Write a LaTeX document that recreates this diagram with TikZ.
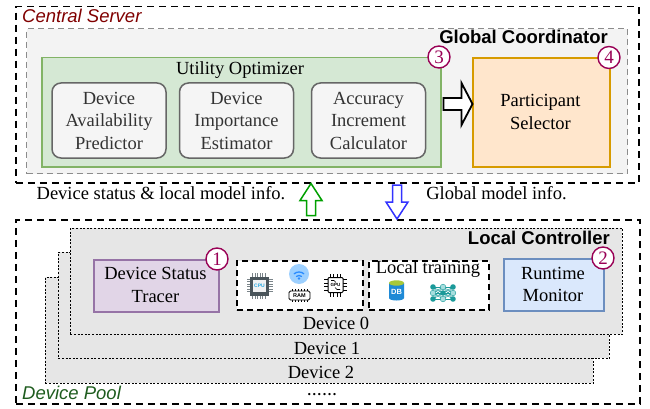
\documentclass[tikz,border=0pt]{standalone}
\usepackage{fontspec}
\setmainfont{Liberation Serif}
\setsansfont{Liberation Sans}
\usetikzlibrary{calc}
\definecolor{numcol}{HTML}{990055}
\definecolor{cslab}{HTML}{800000}
\definecolor{dplab}{HTML}{1E5C1E}
\definecolor{gcfill}{HTML}{F3F3F3}
\definecolor{gcdraw}{HTML}{8C8C8C}
\definecolor{uofill}{HTML}{D5E8D4}
\definecolor{uodraw}{HTML}{82B366}
\definecolor{gbfill}{HTML}{F5F5F5}
\definecolor{gbdraw}{HTML}{666666}
\definecolor{gbtext}{HTML}{333333}
\definecolor{psfill}{HTML}{FFE6CC}
\definecolor{psdraw}{HTML}{D79B00}
\definecolor{devfill}{HTML}{E6E6E6}
\definecolor{dstfill}{HTML}{E1D5E7}
\definecolor{dstdraw}{HTML}{9673A6}
\definecolor{rmfill}{HTML}{DAE8FC}
\definecolor{rmdraw}{HTML}{6C8EBF}
\definecolor{upgreen}{HTML}{00A000}
\definecolor{downblue}{HTML}{3333FF}
\definecolor{cpudark}{HTML}{4A555B}
\definecolor{cpupin}{HTML}{7A8489}
\definecolor{cpublue}{HTML}{29A8E0}
\definecolor{wifibg}{HTML}{9DD0FF}
\definecolor{wifiblue}{HTML}{2A8CFF}
\definecolor{dbblue}{HTML}{1F8AD6}
\definecolor{dbtop}{HTML}{A8C83A}
\definecolor{nndark}{HTML}{1B9A9A}
\definecolor{nnlight}{HTML}{A7DEDE}
\tikzset{
  box/.style={inner sep=0pt, anchor=north west},
  outerdash/.style={draw=black, line width=1.5pt, dash pattern=on 7pt off 5pt},
  devbox/.style={box, fill=devfill, draw=black, line width=0.9pt, dash pattern=on 2pt off 1.6pt},
  iconbox/.style={box, fill=white, draw=black, line width=2pt, dash pattern=on 6pt off 4pt},
  graybox/.style={draw=gbdraw, fill=gbfill, line width=1.5pt, rounded corners=9pt,
    minimum width=114pt, minimum height=75pt, text=gbtext, align=center, inner sep=0pt},
  numc/.style={circle, draw=numcol, line width=1.4pt, fill=white, minimum size=22pt,
    inner sep=0pt, text=numcol, font=\fontsize{19}{19}\selectfont},
  sflab/.style={font=\sffamily\bfseries\fontsize{18.5}{20}\selectfont, inner sep=0pt},
  itlab/.style={font=\sffamily\itshape\fontsize{18.5}{20}\selectfont, inner sep=0pt, anchor=west},
  tiny/.style={font=\sffamily\bfseries\fontsize{5}{5}\selectfont, inner sep=0pt},
}
\newcommand{\dotkern}{\kern1.6pt}
\begin{document}
\begin{tikzpicture}[x=1pt, y=-1pt, font=\fontsize{18.5}{22.5}\selectfont]
\useasboundingbox (0,0) rectangle (650,409);
% ---------- Central server ----------
\node[box, outerdash, minimum width=623pt, minimum height=176pt] (cs) at (15,6) {};
\node[box, fill=gcfill, draw=gcdraw, line width=1.2pt, dash pattern=on 6pt off 4pt,
  minimum width=601pt, minimum height=145pt] (gc) at (26,28) {};
\node[itlab, text=cslab] (cslabel) at (22,16) {Central Server};
\node[sflab, anchor=east] (gclabel) at (608,37) {Global Coordinator};
\node[box, fill=uofill, draw=uodraw, line width=1.5pt, minimum width=399pt, minimum height=109pt] (uo) at (41,57) {};
\node[inner sep=0pt] (uolabel) at (240,70) {Utility Optimizer};
\node[graybox] (b1) at (109,120.5) {Device\\Availability\\Predictor};
\node[graybox] (b2) at (236.5,120.5) {Device\\Importance\\Estimator};
\node[graybox] (b3) at (368.5,120.5) {Accuracy\\Increment\\Calculator};
\node[box, fill=psfill, draw=psdraw, line width=2pt, minimum width=137pt, minimum height=109pt] (ps) at (472,57) {};
\node[align=center, inner sep=0pt] (pslabel) at (540.5,112) {Participant\\Selector};
\node[numc] (c3) at (439,57) {3};
\node[numc] (c4) at (609,57.5) {4};
% block arrow from utility optimizer to participant selector
\coordinate (ba) at ($(uo.east |- 0,104)+(2,0)$);
\draw[line width=1.8pt, fill=white, line join=miter]
  ($(ba)+(0,-6)$) -- ++(18,0) -- ++(0,-15) -- ($(ba)+(29,0)$) -- ($(ba)+(18,21)$)
  -- ++(0,-15) -- ($(ba)+(0,6)$) -- cycle;
% ---------- labels between ----------
\node[inner sep=0pt] (lab1) at (161,193) {Device status \& local model info.};
\node[inner sep=0pt] (lab2) at (496.5,193) {Global model info.};
% ---------- Device pool ----------
\node[box, outerdash, minimum width=624pt, minimum height=184pt] (dp) at (15,219) {};
\node[itlab, text=dplab] (dplabel) at (22,393) {Device Pool};
\node[devbox, minimum width=548pt, minimum height=106pt] (d2) at (45,277) {};
\node[inner sep=0pt] (d2l) at (321,372) {Device 2};
\node[devbox, minimum width=551pt, minimum height=106pt] (d1) at (58,252) {};
\node[inner sep=0pt] (d1l) at (327,348) {Device 1};
\node[devbox, minimum width=552pt, minimum height=106pt] (d0) at (70,228) {};
\node[inner sep=0pt] (d0l) at (336,323) {Device 0};
\node[sflab, anchor=east] (lclabel) at (610,238) {Local Controller};
\node[font=\bfseries\fontsize{14}{14}\selectfont, inner sep=0pt, anchor=base] (dots) at (322,395)
  {.\dotkern.\dotkern.\dotkern.\dotkern.\dotkern.};
% components
\node[box, fill=dstfill, draw=dstdraw, line width=1.5pt, minimum width=125pt, minimum height=52pt] (dst) at (93,259) {};
\node[align=center, inner sep=0pt] (dstl) at (155.5,285) {Device Status\\Tracer};
\node[iconbox, minimum width=126pt, minimum height=49pt] (ib) at (236,260) {};
\node[iconbox, minimum width=120pt, minimum height=49pt] (lt) at (368,260) {};
\node[inner sep=0pt] (ltl) at (428,269) {Local training};
\node[box, fill=rmfill, draw=rmdraw, line width=1.5pt, minimum width=100pt, minimum height=52pt] (rm) at (503,258) {};
\node[align=center, inner sep=0pt] (rml) at (553,284.5) {Runtime\\Monitor};
\node[numc] (c1) at (217,259) {1};
\node[numc] (c2) at (603,258) {2};
% ---------- up / down arrows ----------
\coordinate (upt) at (cs.south -| 311,0);
\draw[upgreen, line width=1.5pt, fill=white, line join=miter]
  (upt) -- ++(11,17) -- ++(-6.5,0) -- ++(0,15) -- ++(-9,0) -- ++(0,-15) -- ++(-6.5,0) -- cycle;
\coordinate (dnt) at (dp.north -| 397,0);
\draw[downblue, line width=1.5pt, fill=white, line join=miter]
  (dnt) -- ++(11,-17) -- ++(-6.5,0) -- ++(0,-17) -- ++(-9,0) -- ++(0,17) -- ++(-6.5,0) -- cycle;
% ---------- icons ----------
% CPU
\foreach \t in {-7,-4.5,...,7.5} {
  \draw[cpupin, line width=0.8pt] (259.5+\t,276.5) -- ++(0,-3.5);
  \draw[cpupin, line width=0.8pt] (259.5+\t,295.5) -- ++(0,3.5);
  \draw[cpupin, line width=0.8pt] (250,286+\t) -- ++(-3.5,0);
  \draw[cpupin, line width=0.8pt] (269,286+\t) -- ++(3.5,0);
}
\fill[cpudark] (250,276.5) rectangle (269,295.5);
\fill[white!92!cpudark] (253,280) rectangle (266,292);
\node[tiny, text=cpublue] (cpul) at (259.5,286) {CPU};
% wifi
\fill[wifibg] (299,274) circle (10);
\fill[wifiblue] (299,278.5) circle (1.3);
\draw[wifiblue, line width=1.3pt, line cap=round] (299,279.5) ++(230:4) arc[start angle=230, end angle=310, radius=4];
\draw[wifiblue, line width=1.3pt, line cap=round] (299,279.5) ++(230:7.5) arc[start angle=230, end angle=310, radius=7.5];
% RAM
\foreach \t in {292,295,...,307} {
  \draw[line width=0.7pt] (\t,291) -- ++(0,-1.8);
  \draw[line width=0.7pt] (\t,300) -- ++(0,1.8);
}
\draw[line width=0.9pt, rounded corners=1.5pt, fill=white] (289,291) rectangle (310,300);
\node[tiny, font=\sffamily\bfseries\fontsize{5.5}{5.5}\selectfont] (raml) at (299.5,295.7) {RAM};
% GPU
\foreach \t in {-5.5,-2,...,6} {
  \draw[line width=0.9pt] (335.5+\t,277.5) -- ++(0,-4);
  \draw[line width=0.9pt] (335.5+\t,292.5) -- ++(0,4);
  \draw[line width=0.9pt] (328,285+\t) -- ++(-4,0);
  \draw[line width=0.9pt] (343,285+\t) -- ++(4,0);
}
\draw[line width=1pt, fill=white, rounded corners=1pt] (328,277.5) rectangle (343,292.5);
\node[tiny, font=\sffamily\bfseries\fontsize{4.5}{4.5}\selectfont] (gpul) at (335.5,285) {GPU};
\draw[line width=0.6pt] (331,280.5) -- (334,280.5) -- (336,282.5);
\draw[line width=0.6pt] (340,289.5) -- (337,289.5) -- (335,287.5);
% DB
\fill[dbblue] (389,283) -- (389,298) arc[start angle=180, end angle=0, x radius=7.5, y radius=2.5] -- (404,283) -- cycle;
\fill[dbtop] (396.5,283) ellipse [x radius=7.5, y radius=2.7];
\node[font=\sffamily\bfseries\fontsize{7.5}{7.5}\selectfont, text=white, inner sep=0pt] (dbl) at (396.5,291.5) {DB};
% neural network
\foreach \xa/\xb in {433/443, 443/453} {
  \foreach \ya in {287,293,299} {
    \foreach \yb in {287,293,299} {
      \draw[nndark, line width=0.5pt] (\xa,\ya) -- (\xb,\yb);
    }
  }
}
\foreach \xx/\i in {433/0, 443/1, 453/2} {
  \foreach \yy/\j in {287/0, 293/1, 299/2} {
    \pgfmathtruncatemacro{\nnpar}{mod(\i+\j,2)}
    \ifnum\nnpar=0
      \fill[nndark] (\xx,\yy) circle (2.8);
    \else
      \fill[nnlight] (\xx,\yy) circle (2.8);
      \draw[nndark, line width=0.4pt] (\xx,\yy) circle (2.8);
    \fi
  }
}
\end{tikzpicture}
\end{document}
